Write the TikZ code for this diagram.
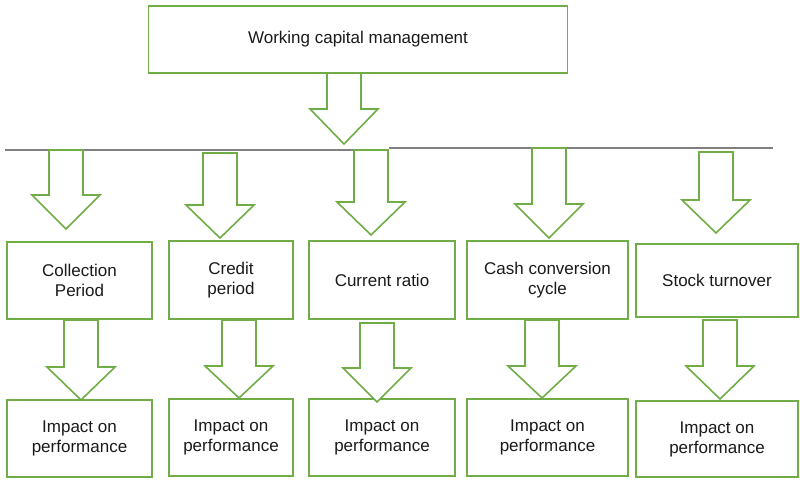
\documentclass[tikz,border=0pt]{standalone}
\usepackage{fontspec}
\setmainfont{Liberation Sans}
\definecolor{boxgreen}{HTML}{70AD47}
\definecolor{linegray}{HTML}{808080}
\definecolor{txt}{HTML}{1A1A1A}
\newcommand\barrow[4]{% cx, ytop, yneck, ytip
  \draw[arr] ({#1-17},#2) -- ({#1+17},#2) -- ({#1+17},#3) -- ({#1+34},#3)
    -- (#1,#4) -- ({#1-34},#3) -- ({#1-17},#3) -- cycle;}
\begin{document}
\begin{tikzpicture}[x=1pt,y=-1pt,
  box/.style={draw=boxgreen, line width=1.6pt, fill=white, inner sep=0pt,
    align=center, text=txt, font=\fontsize{17}{20}\selectfont},
  arr/.style={draw=boxgreen, line width=1.6pt, fill=white, line join=miter},
  hline/.style={draw=linegray, line width=1.6pt}]
\useasboundingbox (0,0) rectangle (800,483);
% top box
\node[box, minimum width=419pt, minimum height=67pt] (wcm) at (358,39.5) {Working capital management};
% horizontal bar
\coordinate (hl1) at (5,150);
\coordinate (hm1) at (389,150);
\coordinate (hm2) at (389,148);
\coordinate (hr2) at (773,148);
\draw[hline] (hl1) -- (hm1);
\draw[hline] (hm2) -- (hr2);
\barrow{344}{73}{109}{144}
% first row
\node[box, minimum width=145pt, minimum height=77pt] (b1) at (79.5,280.5) {Collection\\Period};
\node[box, minimum width=124pt, minimum height=78pt] (b2) at (231,280) {Credit\\period};
\node[box, minimum width=146pt, minimum height=78pt] (b3) at (382,280) {Current ratio};
\node[box, minimum width=161pt, minimum height=78pt] (b4) at (547.5,280) {Cash conversion\\cycle};
\node[box, minimum width=162pt, minimum height=73pt] (b5) at (717,280.5) {Stock turnover};
% second row
\node[box, minimum width=145pt, minimum height=77pt] (c1) at (79.5,438.5) {Impact on\\performance};
\node[box, minimum width=124pt, minimum height=77pt] (c2) at (231,437.5) {Impact on\\performance};
\node[box, minimum width=146pt, minimum height=77pt] (c3) at (382,437.5) {Impact on\\performance};
\node[box, minimum width=161pt, minimum height=77pt] (c4) at (547.5,437.5) {Impact on\\performance};
\node[box, minimum width=162pt, minimum height=76pt] (c5) at (717,439) {Impact on\\performance};
% arrows row 1
\barrow{66}{150}{195}{229}
\barrow{220}{153}{205}{238}
\barrow{371}{150}{202}{235}
\barrow{549}{148}{204}{238}
\barrow{716}{152}{200}{233}
% arrows row 2
\barrow{81}{320}{367}{400}
\barrow{239}{320}{366}{398}
\barrow{377}{323}{368}{402}
\barrow{542}{320}{366}{398}
\barrow{720}{320}{366}{399}
\end{tikzpicture}
\end{document}
